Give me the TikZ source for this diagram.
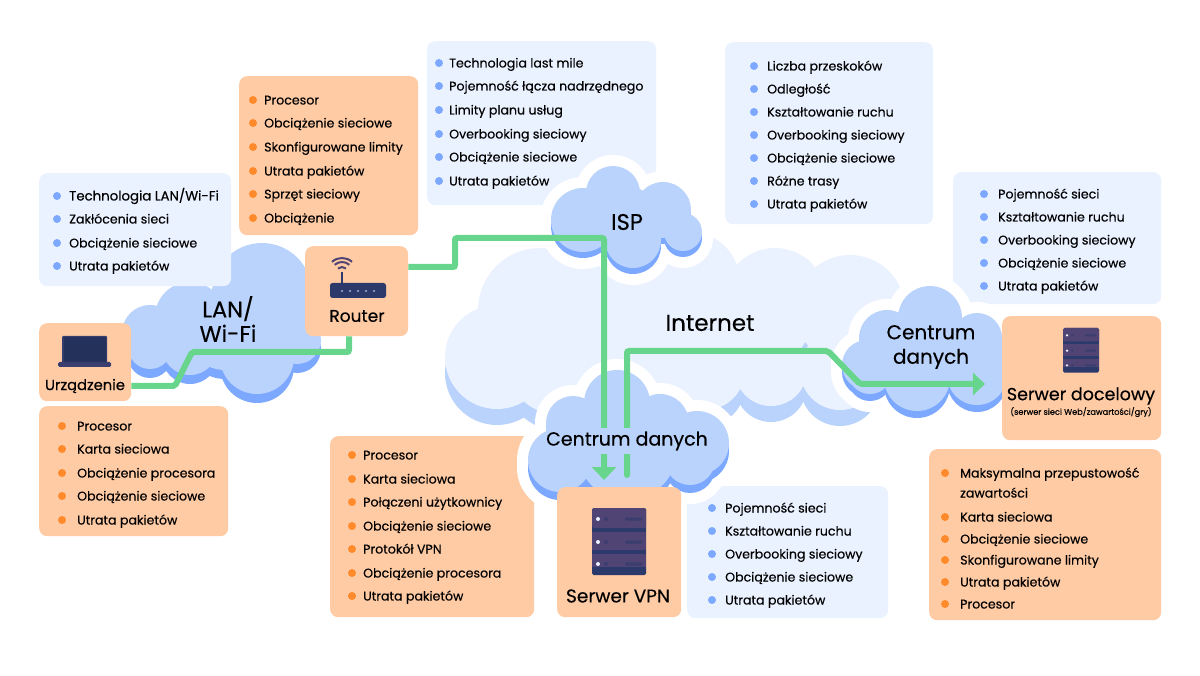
\documentclass[tikz,border=0pt]{standalone}
\usepackage{fontspec}
\setmainfont{Poppins}[FakeBold=0.35]
\usetikzlibrary{arrows.meta}

\definecolor{listblue}{HTML}{EBF2FF}
\definecolor{dotblue}{HTML}{7CA9FF}
\definecolor{listorange}{HTML}{FFCBA4}
\definecolor{dotorange}{HTML}{FF8A2B}
\definecolor{cloudblue}{HTML}{BAD3FC}
\definecolor{linegreen}{HTML}{68D58C}
\definecolor{icondark}{HTML}{2B3A6B}
\definecolor{iconpurple}{HTML}{4F4473}

\tikzset{
  bluebox/.style={fill=listblue,rounded corners=8pt,anchor=north west,inner sep=0pt},
  orangebox/.style={fill=listorange,rounded corners=8pt,anchor=north west,inner sep=0pt},
  itemtext/.style={anchor=base west,inner sep=0pt,font=\fontsize{12.6}{12.6}\selectfont},
  linkline/.style={draw=linegreen,line width=6pt,rounded corners=2pt},
  biglabel/.style={align=center,inner sep=0pt,font=\fontsize{22.5}{24.5}\selectfont},
  boxlabel/.style={align=center,inner sep=0pt,font=\fontsize{17.5}{18}\selectfont},
}

% cloud = circles: colour, y shift, grow, list
\newcommand{\cloudlobes}[4]{
  \foreach \cx/\cy/\cr in #4 {
    \fill[#1] (\cx,\cy+#2) circle[radius=\cr+#3];}
}
\newcommand{\bulletlist}[4]{
  \foreach \iy/\itxt in {#4} {
    \fill[#1] (#2,\iy) circle[radius=4];
    \node[itemtext] (it#2x\iy) at (#3,\iy+4.5) {\itxt};}
}
\newcommand{\servericon}[3]{
  \begin{scope}[shift={(#1,#2)},scale=#3]
    \fill[icondark,rounded corners=1.5pt] (0,0) rectangle (54,67);
    \fill[iconpurple,rounded corners=1.5pt] (0,0) rectangle (54,20);
    \fill[iconpurple] (0,24) rectangle (54,42);
    \fill[iconpurple] (0,46) rectangle (54,59);
    \foreach \ly in {11,34,56} {
      \fill[white!85!dotblue] (6,\ly) circle[radius=2];
      \fill[icondark!60!iconpurple] (14,\ly) circle[radius=2];
      \fill[icondark!60!iconpurple,rounded corners=1pt] (33,\ly-1.5) rectangle (50,\ly+1.5);}
  \end{scope}
}

\def\lanlobes{150/333/28,190/317/35,262/293/50,150/347/22,190/347/28,257/357/37,297/340/24,225/330/40}
\def\netlobes{497/357/52,540/310/62,560/360/55,620/330/80,690/282/50,775/300/52,850/310/55,705/370/40,771/370/36,840/370/40,760/320/50}
\def\isplobes{613/193/27,583/220/32,663/210/28,683/232/19,633/240/28,625/215/30}
\def\vpnlobes{617/403/33,573/423/27,660/423/29,697/443/32,560/460/32,627/450/50,690/460/25}
\def\dclobes{930/318/32,887/338/28,867/365/25,977/338/25,870/372/22,917/378/33,977/375/30,930/350/40,985/360/30}

\begin{document}
\begin{tikzpicture}[x=1pt,y=-1pt]
\useasboundingbox (0,0) rectangle (1200,676);

% lan cloud sits under its list
\cloudlobes{dotblue}{9}{0}{\lanlobes}
\cloudlobes{cloudblue}{0}{0}{\lanlobes}

% list boxes
\node[bluebox,minimum width=192,minimum height=113] (lanlist) at (39,173) {};
\node[orangebox,minimum width=179,minimum height=159] (routerlist) at (239,76) {};
\node[bluebox,minimum width=229,minimum height=164] (isplist) at (427,41) {};
\node[bluebox,minimum width=208,minimum height=182] (netlist) at (725,42) {};
\node[bluebox,minimum width=208,minimum height=132] (dclist) at (953,172) {};
\node[orangebox,minimum width=189,minimum height=130] (devlist) at (39,406) {};
\node[orangebox,minimum width=204,minimum height=181] (vpnlist) at (330,436) {};
\node[bluebox,minimum width=201,minimum height=132] (vpnnet) at (687,486) {};
\node[orangebox,minimum width=232,minimum height=171] (destlist) at (929,449) {};

% internet
\cloudlobes{cloudblue}{16}{0}{\netlobes}
\cloudlobes{listblue}{0}{0}{\netlobes}

% the three clouds with white edge
\cloudlobes{white}{0}{11}{\isplobes}
\cloudlobes{white}{6}{11}{\isplobes}
\cloudlobes{white}{0}{11}{\vpnlobes}
\cloudlobes{white}{8}{11}{\vpnlobes}
\cloudlobes{white}{0}{11}{\dclobes}
\cloudlobes{white}{7}{11}{\dclobes}
\cloudlobes{dotblue}{6}{0}{\isplobes}
\cloudlobes{cloudblue}{0}{0}{\isplobes}
\cloudlobes{dotblue}{8}{0}{\vpnlobes}
\cloudlobes{cloudblue}{0}{0}{\vpnlobes}
\cloudlobes{dotblue}{7}{0}{\dclobes}
\cloudlobes{cloudblue}{0}{0}{\dclobes}

% boxes with icons
\node[orangebox,minimum width=92,minimum height=78] (device) at (39,323) {};
\node[orangebox,minimum width=103,minimum height=90] (router) at (305,246) {};
\node[orangebox,minimum width=124,minimum height=130] (vpn) at (557,487) {};
\node[orangebox,minimum width=159,minimum height=124] (dest) at (1002,316) {};

% connectors
\coordinate (d1) at (175,386);
\coordinate (d2) at (192,352);
\coordinate (d3) at (349,352);
\coordinate (r1) at (455,267);
\coordinate (r2) at (455,238);
\coordinate (r3) at (604,238);
\coordinate (v1) at (627,351);
\coordinate (v2) at (828,351);
\coordinate (v3) at (860,384);
\draw[linkline] (device.east |- d1) -- (d1) -- (d2) -- (d3) -- (router.south -| d3);
\draw[linkline,-{Triangle[length=13pt,width=24pt]},shorten >=7pt] (router.east |- r1) -- (r1) -- (r2) -- (r3) -- (vpn.north -| r3);
\draw[linkline,line cap=round,-{Triangle[length=12pt,width=22pt]},shorten <=12pt,shorten >=17pt] (vpn.north -| v1) -- (v1) -- (v2) -- (v3) -- (v3 -| dest.west);

% labels
\node[biglabel] (lanlabel) at (228,319) {LAN/\\Wi-Fi};
\node[biglabel] (isplabel) at (627,222) {ISP};
\node[biglabel,font=\fontsize{23}{24}\selectfont] (netlabel) at (710,323) {Internet};
\node[biglabel,font=\fontsize{19}{24}\selectfont,fill=cloudblue,minimum height=26] (vpncloud) at (627,441) {Centrum danych};
\node[biglabel,font=\fontsize{20}{24.5}\selectfont] (dccloud) at (931,347) {Centrum\\danych};
\node[boxlabel,font=\fontsize{14.7}{15}\selectfont] (devlabel) at (85,386) {Urządzenie};
\node[boxlabel,font=\fontsize{17}{18}\selectfont] (routerlabel) at (357,316) {Router};
\node[boxlabel,font=\fontsize{18.5}{19}\selectfont] (vpnlabel) at (618,596) {Serwer VPN};
\node[boxlabel] (destlabel) at (1081,396) {Serwer docelowy};
\node[inner sep=0pt,font=\fontsize{8.2}{8.2}\selectfont] (destnote) at (1081,412) {(serwer sieci Web/zawartości/gry)};

% laptop
\fill[icondark!70!iconpurple,rounded corners=1pt] (62,336) rectangle (107,363);
\fill[icondark!85!black] (63.5,337.5) rectangle (105.5,362);
\fill[icondark!60!iconpurple,rounded corners=1.5pt] (58,362) rectangle (111,367);

% router
\fill[icondark,rounded corners=2.5pt] (330,283) rectangle (386,298);
\draw[icondark,line width=2pt] (342,272) -- (342,284);
\foreach \wr in {6,11,15} {
  \draw[iconpurple,line width=2pt] ([shift={(228:\wr)}]342,273) arc[start angle=228,end angle=312,radius=\wr];}
\foreach \dx in {342,350,358,366,374} {
  \fill[white!85!dotblue] (\dx,291) circle[radius=0.9];}

\servericon{592}{508}{1}
\servericon{1063}{328}{0.667}

% list texts
\bulletlist{dotblue}{57}{69}{196/{\fontsize{13.3}{13.3}\selectfont Technologia LAN/Wi-Fi},219/Zakłócenia sieci,243/Obciążenie sieciowe,266/Utrata pakietów}
\bulletlist{dotorange}{253}{264}{100/Procesor,123/Obciążenie sieciowe,147/Skonfigurowane limity,171/Utrata pakietów,194/Sprzęt sieciowy,218/Obciążenie}
\bulletlist{dotblue}{439}{449}{63/Technologia last mile,86/Pojemność łącza nadrzędnego,110/Limity planu usług,134/Overbooking sieciowy,157/Obciążenie sieciowe,181/Utrata pakietów}
\bulletlist{dotblue}{754}{767}{66/Liczba przeskoków,89/Odległość,112/Kształtowanie ruchu,135/Overbooking sieciowy,158/Obciążenie sieciowe,181/Różne trasy,204/Utrata pakietów}
\bulletlist{dotblue}{984}{998}{194/Pojemność sieci,217/Kształtowanie ruchu,240/Overbooking sieciowy,263/Obciążenie sieciowe,286/Utrata pakietów}
\bulletlist{dotorange}{62}{77}{426/Procesor,449/Karta sieciowa,473/Obciążenie procesora,496/Obciążenie sieciowe,520/Utrata pakietów}
\bulletlist{dotorange}{352}{363}{455/Procesor,479/Karta sieciowa,502/Połączeni użytkownicy,526/Obciążenie sieciowe,549/Protokół VPN,573/Obciążenie procesora,596/Utrata pakietów}
\bulletlist{dotblue}{712}{725}{508/Pojemność sieci,531/Kształtowanie ruchu,554/Overbooking sieciowy,577/Obciążenie sieciowe,600/Utrata pakietów}
\bulletlist{dotorange}{945}{960}{473/Maksymalna przepustowość,517/Karta sieciowa,539/Obciążenie sieciowe,560/Skonfigurowane limity,582/Utrata pakietów,604/Procesor}
\node[itemtext] (destcont) at (960,497.5) {zawartości};
\end{tikzpicture}
\end{document}
